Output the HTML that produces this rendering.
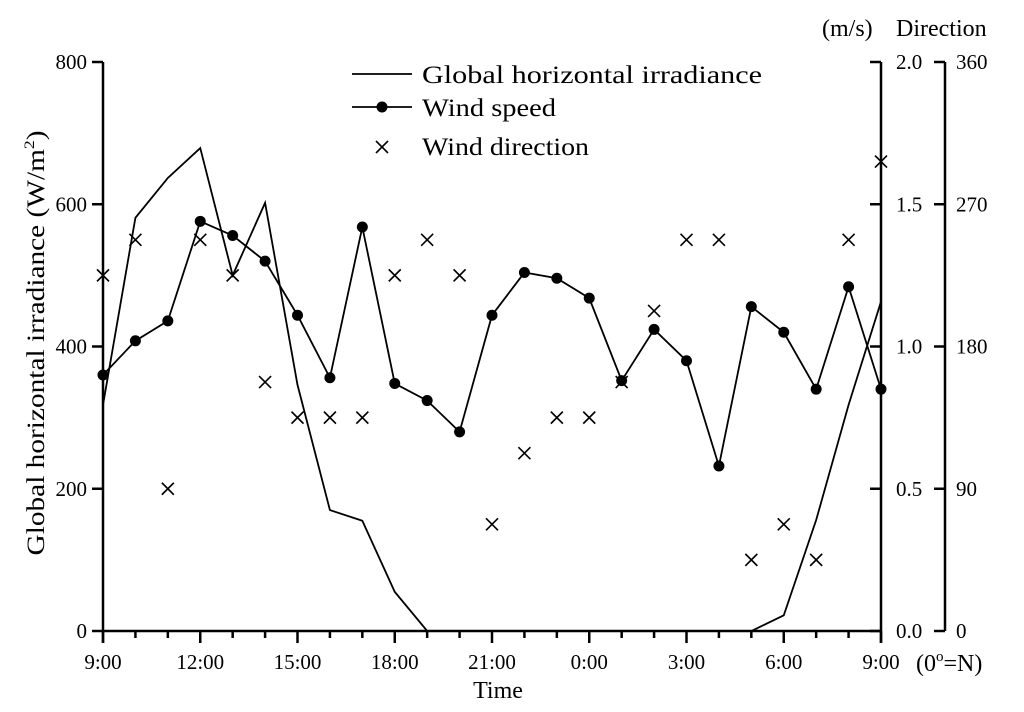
<!DOCTYPE html>
<html><head><meta charset="utf-8"><style>
body{margin:0;background:#fff}
svg{display:block;font-family:"Liberation Serif",serif}
</style></head><body>
<svg id="c" width="1024" height="712"></svg>
<script>
const hours=['9:00','10:00','11:00','12:00','13:00','14:00','15:00','16:00','17:00','18:00','19:00','20:00','21:00','22:00','23:00','0:00','1:00','2:00','3:00','4:00','5:00','6:00','7:00','8:00','9:00'];
const xTickLabels=['9:00','12:00','15:00','18:00','21:00','0:00','3:00','6:00','9:00'];
const ghi=[318,581,637,679,500,602,346,170,155,55,0,0,0,0,0,0,0,0,0,0,0,22,156,318,463];
const windSpeed=[0.90,1.02,1.09,1.44,1.39,1.30,1.11,0.89,1.42,0.87,0.81,0.70,1.11,1.26,1.24,1.17,0.88,1.06,0.95,0.58,1.14,1.05,0.85,1.21,0.85];
const windDir=[225,247.5,90,247.5,225,157.5,135,135,135,225,247.5,225,67.5,112.5,135,135,157.5,202.5,247.5,247.5,45,67.5,45,247.5,297];
const leftTicks=[0,200,400,600,800];
const speedTicks=[0,0.5,1.0,1.5,2.0];
const dirTicks=[0,90,180,270,360];
const NS='http://www.w3.org/2000/svg';
const svg=document.getElementById('c');
const X0=103,X1=881,Y0=631,Y1=62;
const x=i=>X0+(X1-X0)*i/(hours.length-1);
const yL=v=>Y0-(Y0-Y1)*v/800;
const yS=v=>Y0-(Y0-Y1)*v/2;
const yD=v=>Y0-(Y0-Y1)*v/360;
function el(t,a,txt){const e=document.createElementNS(NS,t);for(const k in a)e.setAttribute(k,a[k]);if(txt!==undefined)e.textContent=txt;svg.appendChild(e);return e;}
const axStyle={stroke:'#000','stroke-width':2.5};
let e;
e=el('line',Object.assign({x1:X0,y1:Y1,x2:X0,y2:Y0+12},axStyle));


e=el('line',Object.assign({x1:X0-1,y1:Y0,x2:X1+1,y2:Y0},axStyle));


e=el('line',Object.assign({x1:X1,y1:Y1,x2:X1,y2:Y0+12},axStyle));


e=el('line',Object.assign({x1:945,y1:Y1,x2:945,y2:Y0},axStyle));


hours.forEach((h,i)=>{const major=i%3===0;
e=el('line',{x1:x(i),y1:Y0,x2:x(i),y2:Y0+(major?12:7),stroke:'#000','stroke-width':2.5});

});
xTickLabels.forEach((t,k)=>{
e=el('text',{x:x(k*3),y:669,'font-size':21,'text-anchor':'middle'},t);

});
leftTicks.forEach(v=>{
e=el('line',{x1:X0-11,y1:yL(v),x2:X0,y2:yL(v),stroke:'#000','stroke-width':2.5});


e=el('text',{x:X0-16,y:yL(v)+7,'font-size':21,'text-anchor':'end'},v);

});
speedTicks.forEach(v=>{
e=el('line',{x1:X1-11,y1:yS(v),x2:X1,y2:yS(v),stroke:'#000','stroke-width':2.5});


e=el('text',{x:896,y:yS(v)+7,'font-size':21},v.toFixed(1));

});
dirTicks.forEach(v=>{
e=el('line',{x1:934,y1:yD(v),x2:945,y2:yD(v),stroke:'#000','stroke-width':2.5});


e=el('text',{x:956,y:yD(v)+7,'font-size':21},v);

});
e=el('polyline',{points:ghi.map((v,i)=>x(i)+','+yL(v)).join(' '),fill:'none',stroke:'#000','stroke-width':1.8});


e=el('polyline',{points:windSpeed.map((v,i)=>x(i)+','+yS(v)).join(' '),fill:'none',stroke:'#000','stroke-width':1.8});


windSpeed.forEach((v,i)=>{
e=el('circle',{cx:x(i),cy:yS(v),r:5.5,fill:'#000'});

});
windDir.forEach((v,i)=>{const cx=x(i),cy=yD(v),s=6;
e=el('path',{d:`M${cx-s},${cy-s}L${cx+s},${cy+s}M${cx-s},${cy+s}L${cx+s},${cy-s}`,stroke:'#000','stroke-width':1.6});

});
e=el('line',{x1:352,y1:74,x2:412,y2:74,stroke:'#000','stroke-width':1.8});


e=el('text',{x:422,y:83,'font-size':25,textLength:340,lengthAdjust:'spacingAndGlyphs'},'Global horizontal irradiance');


e=el('line',{x1:352,y1:107,x2:412,y2:107,stroke:'#000','stroke-width':1.8});


e=el('circle',{cx:382,cy:107,r:5.5,fill:'#000'});


e=el('text',{x:422,y:116,'font-size':25,textLength:134,lengthAdjust:'spacingAndGlyphs'},'Wind speed');


e=el('path',{d:'M376,141L388,153M376,153L388,141',stroke:'#000','stroke-width':1.6});


e=el('text',{x:422,y:155,'font-size':25,textLength:167,lengthAdjust:'spacingAndGlyphs'},'Wind direction');


e=el('text',{x:498,y:698,'font-size':24,'text-anchor':'middle'},'Time');


e=el('text',{transform:'translate(44,343) rotate(-90)','font-size':25,'text-anchor':'middle',textLength:425,lengthAdjust:'spacingAndGlyphs'});


e.innerHTML='Global horizontal irradiance (W/m<tspan dy="-10" font-size="15">2</tspan><tspan dy="10">)</tspan>';
e=el('text',{x:822,y:36,'font-size':24},'(m/s)');


e=el('text',{x:896,y:36,'font-size':24},'Direction');


e=el('text',{x:916,y:671,'font-size':24});


e.innerHTML='(0<tspan dy="-10" font-size="15">o</tspan><tspan dy="10">=N)</tspan>';
</script>
</body></html>
